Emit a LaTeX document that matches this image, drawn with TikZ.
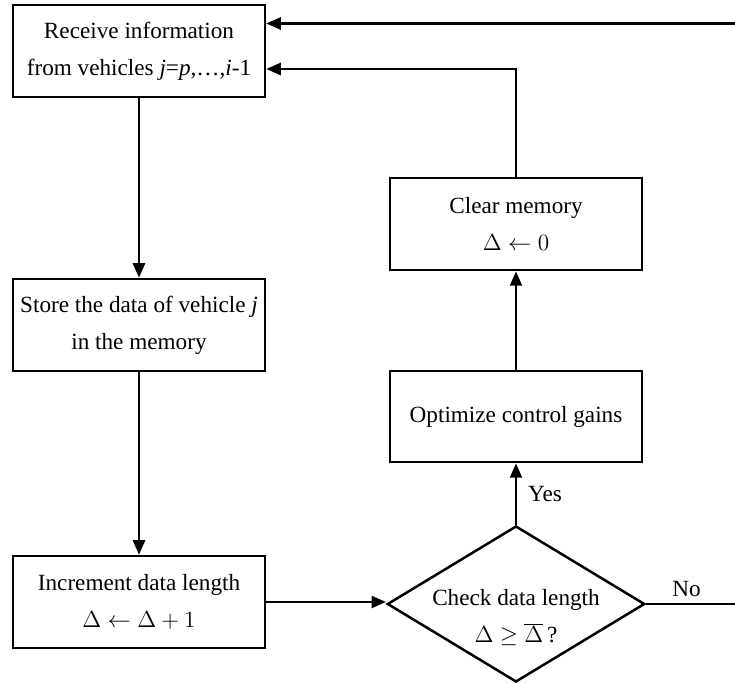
\RequirePackage{fix-cm}
\documentclass[tikz,border=0pt]{standalone}
\usepackage{fontspec}
\setmainfont{Liberation Serif}
\usetikzlibrary{shapes.geometric,arrows.meta}
\begin{document}
\begin{tikzpicture}[x=0.2mm, y=-0.2mm,
    font=\fontsize{13.2}{21}\selectfont,
    box/.style={draw, line width=0.5mm, align=center, minimum width=50.4mm, minimum height=18.4mm, inner sep=0pt},
    check/.style={draw, line width=0.5mm, diamond, aspect=1.65, minimum width=51.2mm, minimum height=31mm, inner sep=-1.2mm},
    arr/.style={line width=0.5mm, -{Triangle[length=2.9mm, width=2.4mm]}}]
    \useasboundingbox (0,0) rectangle (735,684);
    \node[box] (recv) at (139,51) {Receive information\\from vehicles \textit{j}=\textit{p},\dots,\textit{i}-1};
    \node[box] (store) at (139,325) {Store the data of vehicle \textit{j}\\in the memory};
    \node[box] (incr) at (139,602) {Increment data length\\$\Delta\leftarrow\Delta+1$};
    \node[check] (chk) at (516,604) {\raisebox{-2.6mm}[\height][\depth]{\begin{tabular}{@{}c@{}}Check data length\\$\Delta\geq\overline{\Delta}\,$?\end{tabular}}};
    \node[box, minimum height=18.2mm] (opt) at (516,416.5) {Optimize control gains};
    \node[box] (clear) at (516,224) {Clear memory\\$\Delta\leftarrow 0$};
    \coordinate (rim) at (742,0);
    \path (recv) edge[arr] (store);
    \path (store) edge[arr] (incr);
    \path (incr.east) edge[arr] (incr.east -| chk.west);
    \path (chk) edge[arr] node[right, xshift=1mm] {Yes} (opt);
    \path (opt) edge[arr] (clear);
    \draw[arr] (clear.north) |- ([yshift=-3.6mm]recv.east);
    \draw[arr] (chk.east) -- node[above, xshift=-1.5mm] {No} (chk.east -| rim) |- ([yshift=5.5mm]recv.east);
\end{tikzpicture}
\end{document}
